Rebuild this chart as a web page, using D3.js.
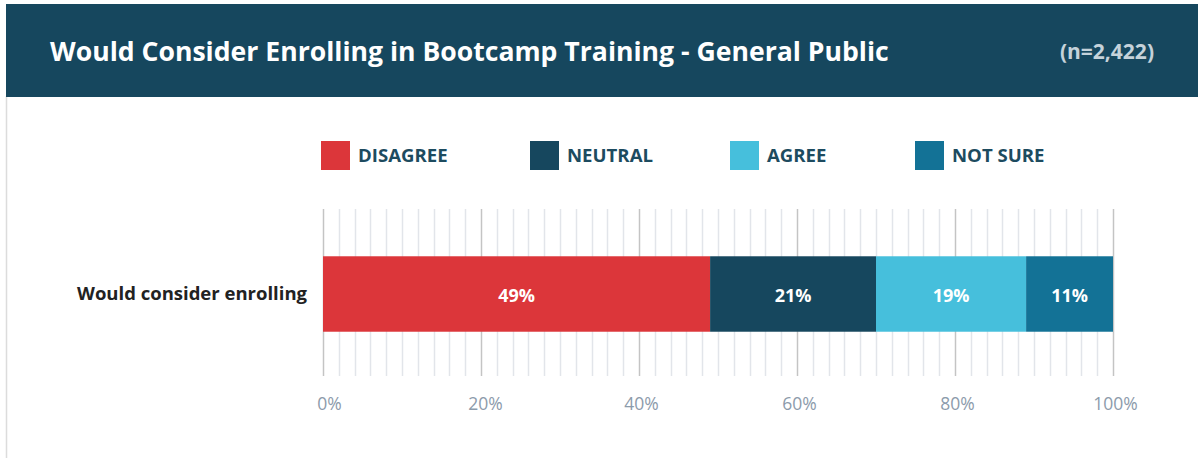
<!DOCTYPE html>
<html>
<head>
<meta charset="utf-8">
<script src="https://cdn.jsdelivr.net/npm/d3@7"></script>
<style>
  body { margin: 0; background: #fff; }
  svg { display: block; font-family: "Open Sans", sans-serif; }
</style>
</head>
<body>
<div class="chart"></div>
<script>
// data
var categories = ["Would consider enrolling"];
var seriesNames = ["DISAGREE", "NEUTRAL", "AGREE", "NOT SURE"];
var seriesValues = [49, 21, 19, 11];
var seriesColors = ["#dc363a", "#16475e", "#46bfdc", "#137296"];
var tickValues = [0, 20, 40, 60, 80, 100];

var svgWidth = 1198, svgHeight = 458;

var svg = d3.select(".chart")
  .append("svg")
  .attr("width", svgWidth)
  .attr("height", svgHeight);

// card border on the left
svg.append("line")
  .attr("x1", 6.5).attr("x2", 6.5)
  .attr("y1", 96).attr("y2", svgHeight)
  .attr("stroke", "#dcdcdc")
  .attr("stroke-width", 1.5);

// header band
svg.append("rect")
  .attr("x", 6).attr("y", 4)
  .attr("width", svgWidth - 6).attr("height", 93)
  .attr("fill", "#16475e");

svg.append("text")
  .attr("x", 50).attr("y", 61)
  .attr("fill", "#fff")
  .attr("font-size", 26.6)
  .attr("font-weight", 700)
  .text("Would Consider Enrolling in Bootcamp Training - General Public");

svg.append("text")
  .attr("x", 1154).attr("y", 59)
  .attr("text-anchor", "end")
  .attr("fill", "#c5d2da")
  .attr("font-size", 21)
  .attr("font-weight", 700)
  .text("(n=2,422)");

// legend
var legendX = [321, 530, 730, 915];
var legend = svg.selectAll(".legend")
  .data(seriesNames)
  .enter()
  .append("g")
  .attr("class", "legend")
  .attr("transform", (d, i) => `translate(${legendX[i]}, 141)`);

legend.append("rect")
  .attr("width", 29).attr("height", 29)
  .attr("fill", (d, i) => seriesColors[i]);

legend.append("text")
  .attr("x", 37).attr("y", 21)
  .attr("fill", "#1d4b5f")
  .attr("font-size", 18.6)
  .attr("font-weight", 700)
  .text(d => d);

// scales
var xScale = d3.scaleLinear().domain([0, 100]).range([323, 1113]);
var yScale = d3.scaleBand().domain(categories).range([211, 377]).paddingInner(0).paddingOuter(0.6);

// gridlines every 2%
var gridVals = d3.range(0, 101, 2);
svg.append("g")
  .selectAll("line")
  .data(gridVals)
  .enter()
  .append("line")
  .attr("x1", d => Math.round(xScale(d)) + 0.5)
  .attr("x2", d => Math.round(xScale(d)) + 0.5)
  .attr("y1", 209)
  .attr("y2", 376)
  .attr("stroke", d => d % 20 === 0 ? "#c4c4c4" : "#e2e5ea")
  .attr("stroke-width", 1.5);

// stacked segments
var stacked = [];
var acc = 0;
seriesValues.forEach(function(v, i) {
  stacked.push({ name: seriesNames[i], value: v, x0: acc, x1: acc + v, color: seriesColors[i] });
  acc += v;
});

var barGroup = svg.append("g");
barGroup.selectAll("rect")
  .data(stacked)
  .enter()
  .append("rect")
  .attr("x", d => xScale(d.x0))
  .attr("width", d => xScale(d.x1) - xScale(d.x0))
  .attr("y", yScale(categories[0]))
  .attr("height", yScale.bandwidth())
  .attr("fill", d => d.color);

barGroup.selectAll("text")
  .data(stacked)
  .enter()
  .append("text")
  .attr("x", d => (xScale(d.x0) + xScale(d.x1)) / 2)
  .attr("y", yScale(categories[0]) + yScale.bandwidth() / 2 + 2)
  .attr("dy", "0.35em")
  .attr("text-anchor", "middle")
  .attr("fill", "#fff")
  .attr("font-size", 18)
  .attr("font-weight", 700)
  .text(d => d.value + "%");

// category label
svg.append("g")
  .selectAll("text")
  .data(categories)
  .enter()
  .append("text")
  .attr("x", 307)
  .attr("y", d => yScale(d) + yScale.bandwidth() / 2)
  .attr("dy", "0.35em")
  .attr("text-anchor", "end")
  .attr("fill", "#222")
  .attr("font-size", 18.5)
  .attr("font-weight", 700)
  .text(d => d);

// x axis labels
var xAxis = d3.axisBottom(xScale)
  .tickValues(tickValues)
  .tickSize(0)
  .tickPadding(0)
  .tickFormat(d => d + "%");

var axisG = svg.append("g")
  .attr("transform", "translate(0, 398)")
  .call(xAxis);
axisG.select(".domain").remove();
axisG.selectAll("text")
  .attr("fill", "#8c9bab")
  .attr("font-size", 17.5)
  .attr("font-family", "Open Sans, sans-serif")
  .attr("dx", (d) => d === 0 ? 6 : (d === 20 ? 4 : 2));
</script>
</body>
</html>
